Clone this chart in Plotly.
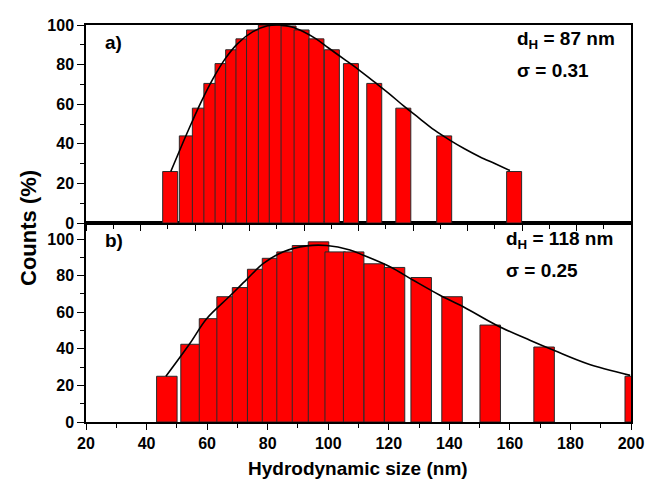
import plotly.graph_objects as go

# ---- data ----
# panel a)
top_x = [47.8, 53.3, 57.6, 61.4, 65.1, 68.6, 72.0, 75.5, 79.4, 83.0,
         86.9, 91.2, 96.1, 101.2, 107.5, 115.2, 124.8, 138.3, 161.4]
top_y = [26, 44, 58, 70.5, 80.5, 87.5, 93, 97.5, 100, 100,
         99.5, 97.5, 93, 87.5, 80.5, 70.5, 58, 44, 26]
top_fit_x = [48, 52, 55, 58, 62, 66, 70, 75, 80, 84, 88, 92, 96, 100,
             105, 110, 115, 120, 125, 130, 135, 140, 145, 150, 155, 160]
top_fit_y = [26, 40.5, 51, 61, 73, 83, 90.5, 96.5, 99.6, 100, 99, 96.5, 93, 88.5,
             83, 77.5, 71.5, 65.5, 59, 53, 47, 42, 37.5, 33.5, 30, 26.5]

# panel b)
bot_x = [46.7, 54.7, 60.8, 66.6, 71.7, 76.7, 81.6, 86.4, 91.5, 96.8,
         102.3, 108.4, 115.2, 121.9, 130.7, 140.9, 153.5, 171.3, 201.4]
bot_y = [25, 42.5, 56.5, 68.5, 73.5, 83.5, 89.5, 93, 96.5, 98.5,
         93, 93, 86.5, 84.5, 79, 68.5, 53, 41, 25]
bot_fit_x = [46.4, 54.3, 59.9, 67.6, 73.1, 78.6, 85.2, 92.9, 99.5, 107.2,
             111.6, 120.4, 128.1, 136.9, 144.6, 155.6, 166.6, 174.9, 185.4, 199.7]
bot_fit_y = [25, 42.9, 56.6, 69, 78, 86.7, 93.1, 96.3, 96.5, 94,
             91.2, 84.9, 77.5, 69.3, 63, 52.9, 44.7, 38.9, 32, 25.5]

x_ticks = [20, 40, 60, 80, 100, 120, 140, 160, 180, 200]
y_ticks = [0, 20, 40, 60, 80, 100]

top_bar_width = 4.95
bot_bar_width = 6.77

RED = "#ff0000"
EDGE = "#2a2a2a"
FONT = "Arial, Liberation Sans, sans-serif"

W, H = 645, 486
ML, MR, MT, MB = 86, 14, 25, 64
plot_w = W - ML - MR
plot_h = H - MT - MB

fig = go.Figure()
fig.add_trace(go.Bar(x=top_x, y=top_y, width=top_bar_width, xaxis="x2", yaxis="y2",
                     marker=dict(color=RED, line=dict(color=EDGE, width=1)),
                     showlegend=False))
fig.add_trace(go.Scatter(x=top_fit_x, y=top_fit_y, mode="lines", xaxis="x2", yaxis="y2",
                         line=dict(color="black", width=1.6, shape="spline", smoothing=1.0),
                         showlegend=False))
fig.add_trace(go.Bar(x=bot_x, y=bot_y, width=bot_bar_width, xaxis="x", yaxis="y",
                     marker=dict(color=RED, line=dict(color=EDGE, width=1)),
                     showlegend=False))
fig.add_trace(go.Scatter(x=bot_fit_x, y=bot_fit_y, mode="lines", xaxis="x", yaxis="y",
                         line=dict(color="black", width=1.6, shape="spline", smoothing=1.0),
                         showlegend=False))

split = 199 / 397.0
tickfont = dict(family=FONT, size=16, color="black", weight="bold")
common = dict(showline=True, linecolor="black", linewidth=1.5, mirror=True,
              showgrid=False, zeroline=False, ticks="outside", tickcolor="black",
              tickwidth=1.2, automargin=False)

fig.update_layout(
    width=W, height=H,
    margin=dict(l=ML, r=MR, t=MT, b=MB, autoexpand=False),
    paper_bgcolor="white", plot_bgcolor="white",
    barmode="overlay",
    xaxis=dict(domain=[0, 1], anchor="y", range=[20, 200], tickmode="array",
               tickvals=x_ticks, ticktext=[str(v) for v in x_ticks], ticklen=6,
               minor=dict(dtick=10, tick0=20, ticklen=4, ticks="outside", tickcolor="black"),
               tickfont=tickfont, **common),
    yaxis=dict(domain=[0, split], anchor="x", range=[0, 108.8], tickmode="array",
               tickvals=y_ticks, ticktext=[str(v) for v in y_ticks], ticklen=7,
               minor=dict(dtick=10, tick0=0, ticklen=4, ticks="outside", tickcolor="black"),
               tickfont=tickfont, **common),
    xaxis2=dict(domain=[0, 1], anchor="y2", range=[20, 200], showticklabels=False,
                tick0=20, dtick=18, ticklen=6,
                minor=dict(dtick=9, tick0=20, ticklen=4, ticks="outside", tickcolor="black"),
                **common),
    yaxis2=dict(domain=[split, 1], anchor="x2", range=[0, 100], tickmode="array",
                tickvals=y_ticks, ticktext=[str(v) for v in y_ticks], ticklen=7,
                minor=dict(dtick=10, tick0=0, ticklen=4, ticks="outside", tickcolor="black"),
                tickfont=tickfont, **common),
)


def px(xp):
    return (xp - ML) / plot_w


def py(yp):
    return (H - MB - yp) / plot_h


ann_font = dict(family=FONT, size=19, color="black", weight="bold")
anns = [
    dict(text="a)", x=px(103), y=py(42)),
    dict(text="b)", x=px(103), y=py(241)),
    dict(text="d<sub>H</sub> = 87 nm", x=px(515), y=py(40)),
    dict(text="σ = 0.31", x=px(515), y=py(71)),
    dict(text="d<sub>H</sub> = 118 nm", x=px(504), y=py(240)),
    dict(text="σ = 0.25", x=px(504), y=py(270)),
]
for a in anns:
    a.update(showarrow=False, font=ann_font, xref="paper", yref="paper",
             xanchor="left", yanchor="middle")
    fig.add_annotation(**a)

fig.add_annotation(text="Counts (%)", x=px(28), y=py(228), xref="paper", yref="paper",
                   showarrow=False, textangle=-90, xanchor="center", yanchor="middle",
                   font=dict(family=FONT, size=22, color="black", weight="bold"))
fig.add_annotation(text="Hydrodynamic size (nm)", x=px(358), y=py(468), xref="paper", yref="paper",
                   showarrow=False, xanchor="center", yanchor="middle",
                   font=dict(family=FONT, size=19, color="black", weight="bold"))

fig.write_html("out.html")
